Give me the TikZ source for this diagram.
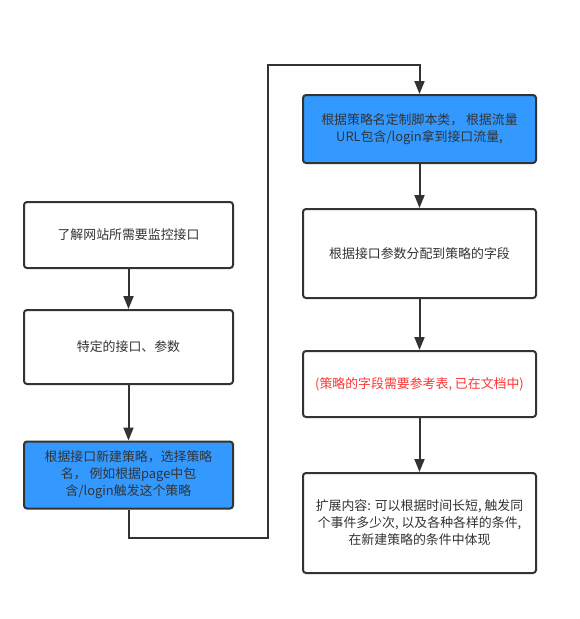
\documentclass[tikz,border=0pt]{standalone}
\usepackage{fontspec}
\setmainfont{Noto Sans CJK SC}
\usetikzlibrary{arrows.meta}
\definecolor{ink}{HTML}{333333}
\definecolor{boxblue}{HTML}{3399FF}
\definecolor{warnred}{HTML}{FF3333}
\tikzset{
  box/.style={draw=ink, line width=2pt, rounded corners=3pt, fill=white, text=ink,
    align=center, inner sep=2pt, font=\fontsize{12.9}{17}\selectfont},
  bluebox/.style={box, fill=boxblue},
  arr/.style={draw=ink, line width=2pt, -{Triangle[length=13pt,width=10pt]}}
}
\begin{document}
\begin{tikzpicture}[x=1pt,y=-1pt]
\useasboundingbox (0,0) rectangle (579,619);
\node[box, minimum width=209pt, minimum height=66pt] (b1) at (128.5,235) {了解网站所需要监控接口};
\node[box, minimum width=209pt, minimum height=74pt] (b2) at (128.5,347) {特定的接口、参数};
\node[bluebox, minimum width=209pt, minimum height=67pt] (b3) at (128.5,475) {根据接口新建策略，选择策略\\名， 例如根据page中包\\含/login触发这个策略};
\node[bluebox, minimum width=233pt, minimum height=68pt] (b4) at (419.5,129) {根据策略名定制脚本类， 根据流量\\URL包含/login拿到接口流量,};
\node[box, minimum width=233pt, minimum height=89pt] (b5) at (419.5,253.5) {根据接口参数分配到策略的字段};
\node[box, minimum width=233pt, minimum height=66pt, text=warnred] (b6) at (419.5,384) {(策略的字段需要参考表, 已在文档中)};
\node[box, minimum width=233pt, minimum height=100pt] (b7) at (419.5,523) {扩展内容: 可以根据时间长短, 触发同\\个事件多少次, 以及各种各样的条件,\\在新建策略的条件中体现};
\coordinate (c1) at (268,538);
\coordinate (c2) at (268,65);
\draw[arr] (b1) -- (b2);
\draw[arr] (b2) -- (b3);
\draw[arr] (b3.south) |- (c1) -- (c2) -| (b4.north);
\draw[arr] (b4) -- (b5);
\draw[arr] (b5) -- (b6);
\draw[arr] (b6) -- (b7);
\end{tikzpicture}
\end{document}
